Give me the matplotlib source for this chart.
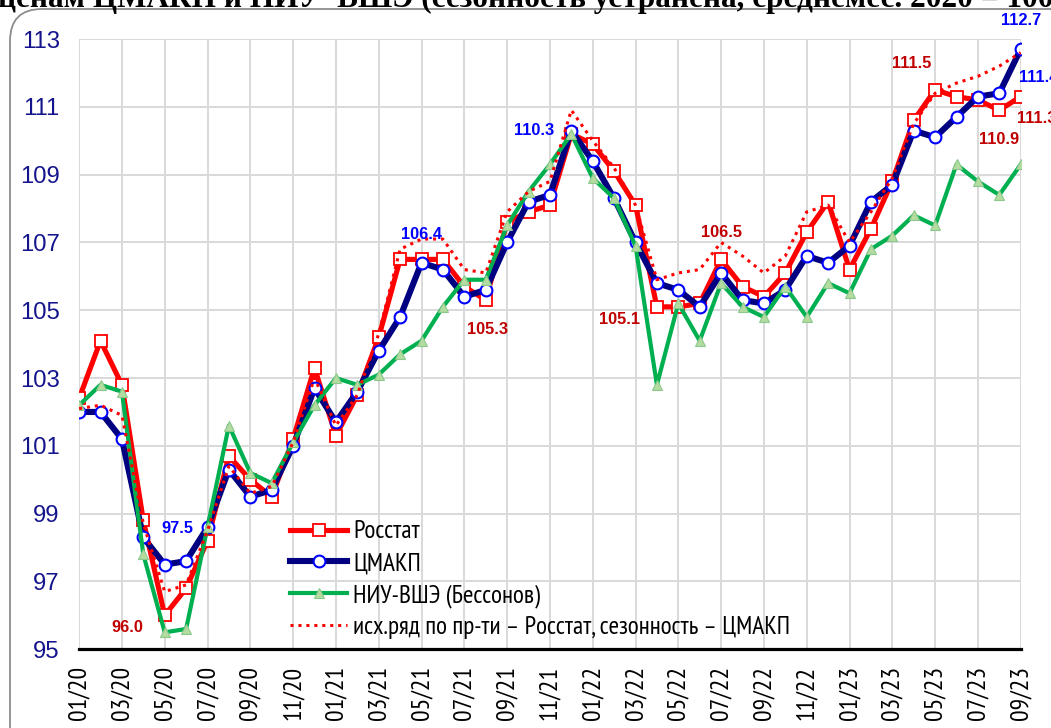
import matplotlib
matplotlib.use("Agg")
import matplotlib.pyplot as plt
from matplotlib.patches import FancyBboxPatch
from matplotlib import font_manager as fm
import numpy as np

# ---------------- data ----------------
tick_labels = ["01/20", "03/20", "05/20", "07/20", "09/20", "11/20",
               "01/21", "03/21", "05/21", "07/21", "09/21", "11/21",
               "01/22", "03/22", "05/22", "07/22", "09/22", "11/22",
               "01/23", "03/23", "05/23", "07/23", "09/23"]

rosstat = [102.4, 104.1, 102.8, 98.8, 96.0, 96.8, 98.2, 100.7, 100.0, 99.5,
           101.2, 103.3, 101.3, 102.5, 104.2, 106.5, 106.5, 106.5, 105.7, 105.3,
           107.6, 107.9, 108.1, 110.2, 109.9, 109.1, 108.1, 105.1, 105.1, 105.2,
           106.5, 105.7, 105.4, 106.1, 107.3, 108.2, 106.2, 107.4, 108.8, 110.6,
           111.5, 111.3, 111.2, 110.9, 111.3]

cmakp = [102.0, 102.0, 101.2, 98.3, 97.5, 97.6, 98.6, 100.3, 99.5, 99.7,
         101.0, 102.7, 101.7, 102.6, 103.8, 104.8, 106.4, 106.2, 105.4, 105.6,
         107.0, 108.2, 108.4, 110.3, 109.4, 108.3, 107.0, 105.8, 105.6, 105.1,
         106.1, 105.3, 105.2, 105.6, 106.6, 106.4, 106.9, 108.2, 108.7, 110.3,
         110.1, 110.7, 111.3, 111.4, 112.7]

hse = [102.2, 102.8, 102.6, 97.8, 95.5, 95.6, 98.6, 101.6, 100.2, 99.9,
       101.1, 102.2, 103.0, 102.8, 103.1, 103.7, 104.1, 105.1, 105.9, 105.9,
       107.5, 108.5, 109.3, 110.2, 108.9, 108.3, 106.9, 102.8, 105.2, 104.1,
       105.8, 105.1, 104.8, 105.7, 104.8, 105.8, 105.5, 106.8, 107.2, 107.8,
       107.5, 109.3, 108.8, 108.4, 109.3]

mixed = [102.1, 102.2, 101.9, 98.7, 96.7, 96.9, 98.5, 100.4, 99.6, 99.8,
         101.1, 103.0, 101.6, 102.5, 104.3, 106.8, 107.1, 107.1, 106.2, 106.1,
         107.9, 108.5, 108.8, 110.9, 110.0, 109.2, 108.1, 105.9, 106.1, 106.2,
         107.0, 106.6, 106.1, 106.6, 107.9, 108.1, 107.0, 107.9, 108.9, 110.5,
         111.4, 111.7, 111.9, 112.2, 112.6]

series_names = ["Росстат", "ЦМАКП", "НИУ-ВШЭ (Бессонов)",
                "исх.ряд по пр-ти – Росстат, сезонность – ЦМАКП"]

title_text = "ценам ЦМАКП и НИУ  ВШЭ (сезонность устранена, среднемес. 2020 = 100)"

# labelled points (month indices)
rosstat_labels = [4, 19, 27, 30, 40, 43, 44]
cmakp_labels = [4, 16, 23, 43, 44]

# ---------------- fonts ----------------
avail = {f.name for f in fm.fontManager.ttflist}


def pick(cands):
    for c in cands:
        if c in avail:
            return c
    return "DejaVu Sans"


NARROW = pick(["PT Sans Narrow", "Roboto Condensed", "Fira Sans Condensed",
               "Open Sans Condensed", "Liberation Sans Narrow", "Arial Narrow",
               "Carlito", "Lato"])
ARIAL = pick(["Liberation Sans", "Arimo", "DejaVu Sans"])
SERIF = pick(["Liberation Serif", "Tinos", "DejaVu Serif"])

# ---------------- figure ----------------
W, H = 1051, 728
fig = plt.figure(figsize=(W / 100, H / 100), dpi=100)
ax = fig.add_axes([79.1 / W, 1 - 649.3 / H, (1020.7 - 79.1) / W, (649.3 - 39.0) / H])

x = np.arange(len(rosstat))

RED = "#FF0000"
NAVY = "#000080"
GREEN = "#00B050"
LGREEN = "#B4DCA0"

l1, = ax.plot(x, rosstat, color=RED, lw=3.7, marker="s", ms=8.5, mfc="white",
              mec=RED, mew=1.3, zorder=3, label=series_names[0])
l2, = ax.plot(x, cmakp, color=NAVY, lw=4.4, marker="o", ms=8.5, mfc="white",
              mec="#0000FF", mew=1.5, zorder=4, label=series_names[1])
l3, = ax.plot(x, hse, color=GREEN, lw=3.0, marker="^", ms=7.5, mfc=LGREEN,
              mec="#8CC88C", mew=0.8, zorder=5, label=series_names[2])
l4, = ax.plot(x, mixed, color=RED, lw=2.2, ls=(0, (1, 1.6)), zorder=6,
              label=series_names[3])

ax.set_xlim(0, len(rosstat) - 1)
ax.set_ylim(95, 113)
ax.set_yticks(np.arange(95, 114, 2))
ax.set_xticks(np.arange(0, len(rosstat), 2))

# fit x tick font so "01/20" is ~54 px long
xfs = 16.0
probe = fig.text(0, 0, tick_labels[0], family=NARROW, fontsize=xfs)
fig.canvas.draw()
wpx = probe.get_window_extent().width
probe.remove()
xfs = min(19.5, xfs * 54.0 / wpx)

ax.set_xticklabels(tick_labels, rotation=90, fontsize=xfs, family=NARROW,
                   color="black")
ax.tick_params(axis="x", length=0, pad=12)
ax.tick_params(axis="y", length=0, pad=14, labelsize=17.2, labelcolor="#14148C")
for lab in ax.get_yticklabels():
    lab.set_family(ARIAL)

ax.grid(True, color="#D9D9D9", lw=1.4)
ax.set_axisbelow(True)
for s in ["left", "right", "top"]:
    ax.spines[s].set_visible(False)
ax.spines["bottom"].set_color("black")
ax.spines["bottom"].set_linewidth(2.3)
ax.spines["bottom"].set_zorder(7)

# data labels
lab_font = dict(family=ARIAL, weight="bold", fontsize=11.8)
r_off = {4: (-27, -9, "center"), 19: (1, -21, "center"), 27: (-27, -9, "center"),
         30: (0, 19, "center"), 40: (-17, 19, "center"), 43: (0, -21, "center"),
         44: (-3, -16, "left")}
c_off = {4: (9, 26, "center"), 16: (0, 20, "center"), 23: (-27, 0, "center"),
         43: (14, 11, "left"), 44: (0, 21, "center")}
for i in rosstat_labels:
    dx, dy, ha = r_off[i]
    ax.annotate(f"{rosstat[i]:.1f}", xy=(i, rosstat[i]), xytext=(dx, dy),
                textcoords="offset points", ha=ha, va="center",
                color="#C00000", annotation_clip=False, zorder=8, **lab_font)
for i in cmakp_labels:
    dx, dy, ha = c_off[i]
    ax.annotate(f"{cmakp[i]:.1f}", xy=(i, cmakp[i]), xytext=(dx, dy),
                textcoords="offset points", ha=ha, va="center",
                color="#0000FF", annotation_clip=False, zorder=8, **lab_font)

# legend: fit font so the longest entry spans ~438 px, rows ~31.7 px apart
lfs = 17.0
probe = fig.text(0, 0, series_names[3], family=NARROW, fontsize=lfs)
fig.canvas.draw()
wpx = probe.get_window_extent().width
probe.remove()
lfs = min(18.5, lfs * 438.0 / wpx)


def make_legend(spacing, top_px):
    return ax.legend(handles=[l1, l2, l3, l4], loc="upper left",
                     bbox_to_anchor=(290 / W, 1 - top_px / H),
                     bbox_transform=fig.transFigure,
                     frameon=False, handlelength=57 * 0.72 / lfs,
                     handletextpad=6 * 0.72 / lfs,
                     labelspacing=spacing, borderpad=0, borderaxespad=0,
                     prop={"family": NARROW, "size": lfs})


sp, top = 0.3, 516.0
leg = make_legend(sp, top)
fig.canvas.draw()
t = leg.get_texts()
pitch = t[0].get_window_extent().y0 - t[1].get_window_extent().y0
sp = max(0.0, sp + (31.7 - pitch) / (lfs / 0.72))
leg.remove()
leg = make_legend(sp, top)
fig.canvas.draw()
bb = leg.get_texts()[0].get_window_extent()
cy = H - (bb.y0 + bb.y1) / 2.0
top += 532.0 - cy
leg.remove()
leg = make_legend(sp, top)

# outer rounded border
border = FancyBboxPatch((10, -60), 1100, (H - 9) + 60,
                        boxstyle="round,pad=0,rounding_size=32",
                        transform=None, fill=False, edgecolor="#8C8C8C", lw=1.3)
fig.patches.append(border)

# clipped title at very top
fig.text(-2 / W, 1 - 7 / H, title_text, ha="left", va="baseline",
         family=SERIF, weight="bold", fontsize=22.5, color="black")

fig.savefig("out.png", dpi=100)
